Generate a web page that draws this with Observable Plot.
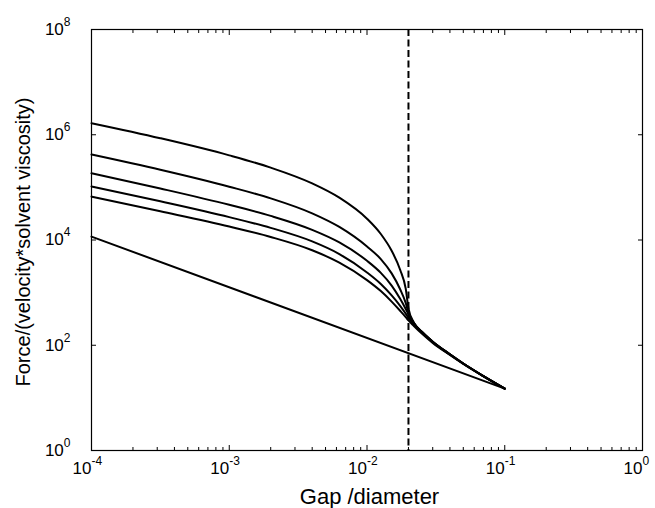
<!DOCTYPE html>
<html><head><meta charset="utf-8">
<script src="https://cdn.jsdelivr.net/npm/d3@7"></script>
<script src="https://cdn.jsdelivr.net/npm/@observablehq/plot@0.6"></script>
<style>
html,body{margin:0;padding:0;background:#fff;}
#chart svg{display:block;}
</style></head><body><div id="chart"></div>
<script>
// Gap/diameter sample positions
const gap = [1e-4, 3.16e-4, 1e-3, 2e-3, 4e-3, 6.3e-3, 1e-2, 1.26e-2, 1.51e-2, 1.74e-2, 1.91e-2, 2e-2, 2.19e-2, 2.5e-2, 3e-2, 4e-2, 5e-2, 7e-2, 1e-1];
// Force/(velocity*solvent viscosity) for the five curves (top to bottom at the left)
const force1 = [1.66e6, 8.59e5, 4.06e5, 2.37e5, 1.19e5, 6.38e4, 2.54e4, 1.30e4, 6.24e3, 2.72e3, 1.19e3, 501, 269, 182, 117, 67.3, 45.0, 25.9, 15];
const force2 = [4.21e5, 2.16e5, 1.03e5, 6.19e4, 3.21e4, 1.77e4, 7.53e3, 4.34e3, 2.32e3, 1.16e3, 638, 413, 263, 178, 117, 67.3, 45.0, 25.9, 15];
const force3 = [1.85e5, 9.51e4, 4.66e4, 2.87e4, 1.56e4, 8.99e3, 4.02e3, 2.37e3, 1.36e3, 762, 490, 385, 261, 178, 117, 67.3, 45.0, 25.9, 15];
const force4 = [1.04e5, 5.43e4, 2.72e4, 1.70e4, 9.40e3, 5.41e3, 2.42e3, 1.46e3, 885, 561, 399, 332, 249, 174, 114, 66.1, 44.5, 25.9, 15];
const force5 = [6.68e4, 3.51e4, 1.80e4, 1.14e4, 6.38e3, 3.71e3, 1.73e3, 1.07e3, 675, 452, 343, 296, 233, 167, 111, 65.3, 44.2, 25.7, 15];
// Straight reference line
const lineGap = [1e-4, 1e-1];
const lineForce = [1.16e4, 15];
// Dashed cutoff
const cutoffGap = [0.02];
// Axes
const xMajorTicks = [1e-4, 1e-3, 1e-2, 1e-1, 1];
const xMinorMultipliers = [2, 3, 4, 5, 6, 7, 8, 9];
const xMinorTicks = [1e-4, 1e-3, 1e-2, 1e-1].flatMap(d => xMinorMultipliers.map(m => m * d));
const yTicks = [1, 1e2, 1e4, 1e6, 1e8];
const xLabel = "Gap /diameter";
const yLabel = "Force/(velocity*solvent viscosity)";

const curves = [force1, force2, force3, force4, force5];
const curveData = curves.flatMap((f, i) => gap.map((g, j) => ({series: i, gap: g, force: f[j]})));
const lineData = lineGap.map((g, j) => ({gap: g, force: lineForce[j]}));

const fmt = d => "10^" + Math.round(Math.log10(d));
const blank = () => "";

const chart = Plot.plot({
  width: 655, height: 508,
  marginLeft: 91, marginRight: 13, marginTop: 29, marginBottom: 58,
  style: {fontFamily: "'Liberation Sans', Arial, Helvetica, sans-serif", background: "white", color: "black"},
  x: {type: "log", domain: [1e-4, 1], label: null},
  y: {type: "log", domain: [1, 1e8], label: null},
  marks: [
    Plot.axisX({ticks: xMinorTicks, tickSize: -3, tickFormat: blank, label: null}),
    Plot.axisX({anchor: "top", ticks: xMinorTicks, tickSize: -3, tickFormat: blank, label: null}),
    Plot.axisX({ticks: xMajorTicks, tickSize: -5, tickFormat: blank, label: null}),
    Plot.axisX({anchor: "top", ticks: xMajorTicks, tickSize: -5, tickFormat: blank, label: null}),
    Plot.axisY({ticks: yTicks, tickSize: -5, tickFormat: blank, label: null}),
    Plot.axisY({anchor: "right", ticks: yTicks, tickSize: -5, tickFormat: blank, label: null}),
    Plot.axisX({ticks: xMajorTicks, tickSize: 0, tickPadding: 11, tickFormat: fmt, fontSize: 17, label: null}),
    Plot.axisY({ticks: yTicks, tickSize: 0, tickPadding: 21, tickFormat: fmt, fontSize: 17, label: null}),
    Plot.frame({stroke: "black", strokeWidth: 1.2}),
    Plot.ruleX(cutoffGap, {stroke: "black", strokeWidth: 2, strokeDasharray: "7,3.5"}),
    Plot.line(curveData, {x: "gap", y: "force", z: "series", stroke: "black", strokeWidth: 2, curve: "monotone-x"}),
    Plot.line(lineData, {x: "gap", y: "force", stroke: "black", strokeWidth: 2}),
    Plot.text([xLabel], {text: d => d, frameAnchor: "bottom", textAnchor: "middle", dy: 53, dx: 2.5, fontSize: 22}),
    Plot.text([yLabel], {text: d => d, frameAnchor: "left", textAnchor: "middle", rotate: -90, dx: -68.4, dy: 2, fontSize: 20})
  ]
});
document.getElementById("chart").append(chart);

const NS = "http://www.w3.org/2000/svg";
function supify(t) {
  const s = t.textContent; const i = s.indexOf("^");
  if (i < 0) return false;
  t.textContent = s.slice(0, i);
  const sp = document.createElementNS(NS, "tspan");
  sp.setAttribute("dy", "-9");
  sp.setAttribute("font-size", "12");
  sp.textContent = s.slice(i + 1);
  t.append(sp);
  return true;
}
chart.querySelectorAll('g[aria-label="y-axis tick label"] text').forEach(t => supify(t));
chart.querySelectorAll('g[aria-label="x-axis tick label"] text').forEach(t => {
  if (!supify(t)) return;
  const w = t.getComputedTextLength();
  const w10 = t.getSubStringLength(0, 2);
  const dx = w / 2 - w10;
  t.setAttribute("transform", ((t.getAttribute("transform") || "") + ` translate(${dx.toFixed(2)},0)`).trim());
});
</script></body></html>
